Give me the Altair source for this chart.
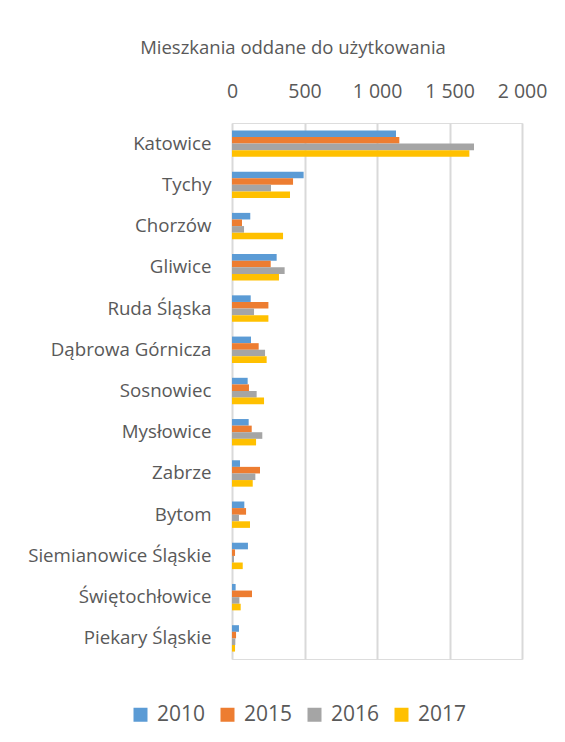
import altair as alt
import pandas as pd

cities = ["Katowice", "Tychy", "Chorzów", "Gliwice", "Ruda Śląska", "Dąbrowa Górnicza",
          "Sosnowiec", "Mysłowice", "Zabrze", "Bytom", "Siemianowice Śląskie",
          "Świętochłowice", "Piekary Śląskie"]
years = ["2010", "2015", "2016", "2017"]
v2010 = [1131, 494, 126, 308, 129, 131, 108, 115, 55, 85, 110, 25, 48]
v2015 = [1154, 421, 69, 267, 251, 184, 117, 136, 193, 97, 21, 138, 28]
v2016 = [1669, 269, 83, 363, 152, 228, 170, 209, 161, 48, 14, 51, 23]
v2017 = [1637, 400, 352, 324, 251, 239, 221, 166, 143, 124, 74, 60, 21]
colors = ["#5B9BD5", "#ED7D31", "#A5A5A5", "#FFC000"]

rows = []
for yr, vals in zip(years, [v2010, v2015, v2016, v2017]):
    for c, v in zip(cities, vals):
        rows.append({"miasto": c, "rok": yr, "wartosc": v})
df = pd.DataFrame(rows)

FONT = "Open Sans"
TXT = "#595959"

chart = alt.Chart(df).mark_bar().encode(
    x=alt.X("wartosc:Q",
            scale=alt.Scale(domain=[0, 2000], nice=False),
            axis=alt.Axis(orient="top", values=[0, 500, 1000, 1500, 2000],
                          format=",d", domain=False, ticks=False, title=None,
                          labelFontSize=19.5, labelColor=TXT, labelFont=FONT,
                          labelOverlap=False, labelFlush=False, labelPadding=22,
                          gridColor="#D9D9D9", gridWidth=2)),
    y=alt.Y("miasto:N", sort=cities,
            scale=alt.Scale(paddingInner=0.36, paddingOuter=0.18),
            axis=alt.Axis(title=None, domain=False, ticks=False, labelPadding=21,
                          labelFontSize=18.7, labelColor=TXT, labelFont=FONT,
                          labelLimit=300)),
    yOffset=alt.YOffset("rok:N", sort=years, scale=alt.Scale(paddingInner=0, paddingOuter=0)),
    color=alt.Color("rok:N", sort=years,
                    scale=alt.Scale(domain=years, range=colors),
                    legend=alt.Legend(title=None, orient="none", direction="horizontal",
                                      legendX=-102, legendY=581,
                                      symbolType="square", symbolSize=196,
                                      symbolStrokeWidth=0,
                                      labelFontSize=21, labelColor=TXT, labelFont=FONT,
                                      columnPadding=11, labelOffset=6)),
).properties(
    width=290, height=536,
    title=alt.TitleParams("Mieszkania oddane do użytkowania", fontSize=18.5,
                          font=FONT, color=TXT, fontWeight="normal",
                          anchor="middle", dx=-84, offset=24),
    padding={"left": 224, "top": 115, "right": 30, "bottom": 74},
    autosize=alt.AutoSizeParams(type="none"),
).configure_view(stroke=None).configure(background="white", locale={"number": {"decimal": ",", "thousands": " ", "grouping": [3], "currency": ["", " zł"]}})

chart.save("out.html", embed_options={"renderer": "svg", "actions": False})
